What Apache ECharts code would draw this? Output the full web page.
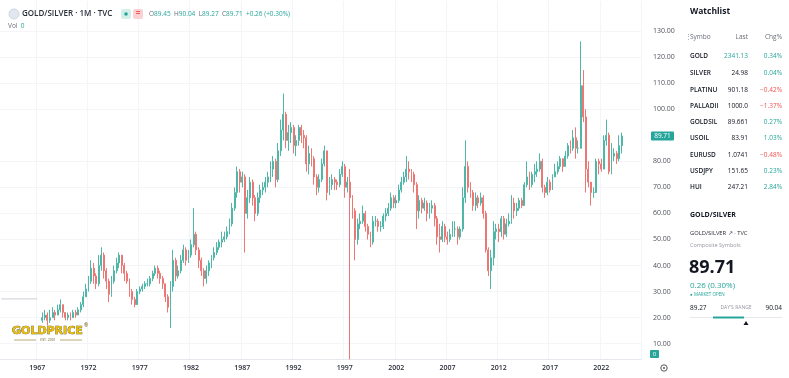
<!DOCTYPE html>
<html><head><meta charset="utf-8">
<script src="https://cdn.jsdelivr.net/npm/echarts@6/dist/echarts.min.js"></script>
<style>html,body{margin:0;padding:0;background:#fff}#c{width:789px;height:378px}</style>
</head><body><div id="c"></div>
<script>
// ---- data (quarterly candles) ----
const firstCandle = '1967-Q3';
const axisStartYear = 1963, axisStartQuarter = 3, axisEndYear = 2025;
const closes = [
 20,21,
 19,20,22,21, 23,25,22,20, 21,20,22,21, 23,25,28,31, 34,39,36,33,
 40,44,38,34, 29,34,38,41, 44,40,37,34, 30,27,25,30, 31,32,33,33,
 35,37,39,37, 35,33,28,24, 32,42,36,38, 42,46,42,44, 48,52,46,42,
 38,35,38,41, 43,45,47,49, 50,51,53,56, 62,68,76,72, 74,60,66,72,
 66,60,66,69, 70,72,74,77, 80,73,84,92, 98,88,91,93, 86,88,93,90,
 89,79,83,81, 74,70,73,79, 84,68,71,73, 72,71,75,78, 70,72,66,61,
 50,56,57,60, 55,52,49,57, 57,55,55,59, 60,62,66,64, 65,69,72,74,
 77,76,75,71, 61,65,62,64, 60,62,63,58, 51,50,55,51, 50,52,54,54,
 51,54,66,78, 70,68,63,66, 64,66,60,46, 38,43,53,54, 53,58,52,56,
 57,64,61,62, 65,63,71,74, 71,75,76,77, 80,70,68,72, 69,74,76,78,
 81,78,82,86, 85,89,85,85, 109,97,77,72, 68,68,80,79, 77,88,90,76,
 82,83,81,86, 89.71
];
const highs = [
 22,23,
 22,23,24,23, 25,27,25,22, 22,22,23,23, 24,26,30,33, 36,42,41,37,
 44,47,45,39, 35,36,40,43, 45,44,41,38, 35,31,28,31, 32,33,34,35,
 36,38,40,40, 38,36,33,29, 34,46,43,40, 44,48,47,46, 50,62,53,47,
 43,39,40,42, 44,47,49,50, 53,53,55,58, 64,70,78,77, 76,75,69,74,
 73,67,68,71, 72,74,76,80, 82,81,87,96, 106,99,94,95, 94,90,94,94,
 92,90,86,85, 82,75,75,81, 86,84,74,75, 74,73,77,80, 79,74,77,67,
 62,58,60,63, 61,56,53,59, 59,58,57,60, 62,64,68,67, 67,71,74,76,
 82,80,77,76, 72,67,66,66, 65,64,65,64, 59,56,57,56, 53,54,57,57,
 55,55,70,88, 80,72,69,68, 67,68,67,61, 47,46,57,56, 56,59,59,58,
 60,67,66,64, 66,66,72,80, 76,76,79,80, 83,81,71,74, 73,75,79,80,
 82,81,84,87, 88,92,93,88, 126,115,100,80, 72,70,81,81, 81,90,96,91,
 87,85,84,90, 91
];
const lows = [
 18,19,
 17,18,20,19, 21,22,20,19, 19,19,20,20, 21,22,24,28, 30,33,33,31,
 32,38,35,31, 26,28,33,37, 39,37,34,33, 28,25,24,25, 29,30,31,32,
 32,34,36,35, 33,31,26,22, 16,30,34,35, 37,41,40,41, 43,47,44,39,
 36,32,33,36, 39,42,44,46, 47,49,50,52, 55,61,66,68, 70,45,58,64,
 63,57,59,64, 67,68,70,72, 74,70,72,82, 88,85,84,87, 83,82,86,87,
 85,76,75,78, 71,67,68,72, 78,65,67,69, 69,69,70,74, 66,68,4,58,
 42,48,54,56, 53,50,47,48, 55,53,53,54, 57,59,61,62, 62,64,68,71,
 72,73,72,68, 54,58,60,61, 57,58,60,55, 48,45,49,49, 48,49,51,51,
 48,50,53,64, 68,66,61,61, 62,63,58,45, 36,31,40,50, 49,51,50,51,
 55,56,58,59, 61,62,63,70, 69,70,72,74, 76,68,66,67, 68,69,74,75,
 77,76,78,81, 83,84,81,83, 85,95,68,70, 63,66,68,75, 76,77,86,75,
 75,80,79,80, 83
];
const firstOpen = 19;
const preListingLevel = 27.2;        // flat grey line before the first candle
const preListingQuarters = ['1963-Q3','1967-Q1'];
const yTicks = [10,20,30,40,50,60,70,80,100,110,120,130];   // 90.00 is hidden under the last-price badge
const yearTicks = ['1967','1972','1977','1982','1987','1992','1997','2002','2007','2012','2017','2022'];
const lastPrice = 89.71;
const lastVolume = 0;

const watchSymbols = ['GOLD','SILVER','PLATINU','PALLADII','GOLDSIL','USOIL','EURUSD','USDJPY','HUI'];
const watchLast = ['2341.13','24.98','901.18','1000.0','89.661','83.91','1.0741','151.65','247.21'];
const watchChg = ['0.34%','0.04%','\u22120.42%','\u22121.37%','0.27%','1.03%','\u22120.48%','0.23%','2.84%'];
const watchChgUp = [true,true,false,false,true,true,false,true,true];

// ---- build ----
const cats = [];
for (let y = axisStartYear; y <= axisEndYear; y++) {
  for (let q = 1; q <= 4; q++) {
    if (y === axisStartYear && q < axisStartQuarter) continue;
    cats.push(y + '-Q' + q);
  }
}
const startIdx = cats.indexOf(firstCandle);
const candleData = cats.map(() => '-');
for (let i = 0; i < closes.length; i++) {
  const o = i === 0 ? firstOpen : closes[i - 1];
  const c = closes[i];
  candleData[startIdx + i] = [o, c, Math.min(lows[i], o, c), Math.max(highs[i], o, c)];
}
const i0 = cats.indexOf(preListingQuarters[0]), i1 = cats.indexOf(preListingQuarters[1]);
const flatData = cats.map((c, i) => (i >= i0 && i <= i1) ? preListingLevel : '-');

const isYearTick = (idx, val) => val.endsWith('Q1') && yearTicks.includes(val.slice(0, 4));

const UP = '#4fb7a8', DOWN = '#ec7774', TEAL = '#26a69a', RED = '#ef5350';
const F = '"Open Sans", "Noto Sans", sans-serif';

const chart = echarts.init(document.getElementById('c'), null, { renderer: 'canvas' });

const g = [];
// header
g.push({ type: 'circle', shape: { cx: 14, cy: 14, r: 5 }, style: { fill: '#e3e8f0', stroke: '#cfd6e0', lineWidth: 1 } });
g.push({ type: 'text', x: 22, y: 14, style: { text: 'GOLD/SILVER \u00b7 1M \u00b7 TVC', fill: '#2a2e39', font: '600 8px ' + F, verticalAlign: 'middle' } });
g.push({ type: 'rect', shape: { x: 121, y: 9, width: 10, height: 10, r: 2 }, style: { fill: '#d3efe9' } });
g.push({ type: 'circle', shape: { cx: 126, cy: 14, r: 1.8 }, style: { fill: TEAL } });
g.push({ type: 'rect', shape: { x: 133, y: 9, width: 10, height: 10, r: 2 }, style: { fill: '#fad2d6' } });
g.push({ type: 'text', x: 138, y: 14, style: { text: '=', fill: RED, font: '700 8px ' + F, align: 'center', verticalAlign: 'middle' } });
g.push({ type: 'text', x: 149, y: 14, style: {
  text: '{l|O}{v|89.45} {l|H}{v|90.04} {l|L}{v|89.27} {l|C}{v|89.71} {v|+0.26 (+0.30%)}',
  verticalAlign: 'middle',
  rich: { l: { fill: '#6a6d78', font: '6.5px ' + F }, v: { fill: TEAL, font: '6.5px ' + F } }
} });
g.push({ type: 'text', x: 8, y: 26, style: { text: '{l|Vol} {v|0}', verticalAlign: 'middle',
  rich: { l: { fill: '#6a6d78', font: '6.5px ' + F }, v: { fill: TEAL, font: '6.5px ' + F } } } });

// logo
g.push({ type: 'text', x: 12, y: 331, style: { text: 'GOLDPRICE', fill: '#e8bd12', stroke: '#4d3c00', lineWidth: 0.6, font: '900 11px "DejaVu Sans", sans-serif', verticalAlign: 'middle' } });
g.push({ type: 'text', x: 84, y: 326, style: { text: '\u00ae', fill: '#5c4700', font: '5px ' + F, verticalAlign: 'middle' } });
g.push({ type: 'line', shape: { x1: 14, y1: 340, x2: 36, y2: 340 }, style: { stroke: '#8a7420', lineWidth: 0.6 } });
g.push({ type: 'line', shape: { x1: 60, y1: 340, x2: 82, y2: 340 }, style: { stroke: '#8a7420', lineWidth: 0.6 } });
g.push({ type: 'text', x: 48, y: 340, style: { text: 'EST. 2001', fill: '#6b5a20', font: '3.5px ' + F, align: 'center', verticalAlign: 'middle' } });

// settings icon
g.push({ type: 'circle', shape: { cx: 664, cy: 368, r: 3.2 }, style: { fill: 'none', stroke: '#555', lineWidth: 1 } });
g.push({ type: 'circle', shape: { cx: 664, cy: 368, r: 1 }, style: { fill: '#555' } });

// watchlist
g.push({ type: 'text', x: 690, y: 12, style: { text: 'Watchlist', fill: '#131722', font: '700 8.5px ' + F, verticalAlign: 'middle' } });
g.push({ type: 'text', x: 685, y: 37, style: { text: '\u22ee', fill: '#9598a1', font: '7px ' + F, verticalAlign: 'middle' } });
g.push({ type: 'text', x: 690, y: 37, style: { text: 'Symbo', fill: '#6a6d78', font: '6.5px ' + F, verticalAlign: 'middle' } });
g.push({ type: 'text', x: 748, y: 37, style: { text: 'Last', fill: '#6a6d78', font: '6.5px ' + F, align: 'right', verticalAlign: 'middle' } });
g.push({ type: 'text', x: 782, y: 37, style: { text: 'Chg%', fill: '#6a6d78', font: '6.5px ' + F, align: 'right', verticalAlign: 'middle' } });
const rowY = [56, 73, 90, 106, 122, 138, 155, 171, 187];
watchSymbols.forEach((s, i) => {
  const y = rowY[i];
  g.push({ type: 'text', x: 690, y, style: { text: s, fill: '#131722', font: '600 6.5px ' + F, verticalAlign: 'middle' } });
  g.push({ type: 'text', x: 748, y, style: { text: watchLast[i], fill: i === 0 ? TEAL : '#131722', font: '6.5px ' + F, align: 'right', verticalAlign: 'middle' } });
  g.push({ type: 'text', x: 782, y, style: { text: watchChg[i], fill: watchChgUp[i] ? TEAL : RED, font: '6.5px ' + F, align: 'right', verticalAlign: 'middle' } });
});

// detail panel
g.push({ type: 'text', x: 690, y: 215, style: { text: 'GOLD/SILVER', fill: '#131722', font: '700 7px ' + F, verticalAlign: 'middle' } });
g.push({ type: 'text', x: 690, y: 233, style: { text: 'GOLD/SILVER \u2197 \u00b7 TVC', fill: '#2a2e39', font: '5.8px ' + F, verticalAlign: 'middle' } });
g.push({ type: 'text', x: 690, y: 245, style: { text: 'Composite Symbols', fill: '#9598a1', font: '5.5px ' + F, verticalAlign: 'middle' } });
g.push({ type: 'text', x: 689, y: 268, style: { text: '89.71', fill: '#131722', font: '700 18px ' + F, verticalAlign: 'middle' } });
g.push({ type: 'text', x: 690, y: 286, style: { text: '0.26 (0.30%)', fill: TEAL, font: '8px ' + F, verticalAlign: 'middle' } });
g.push({ type: 'text', x: 690, y: 295, style: { text: '\u25cf MARKET OPEN', fill: TEAL, font: '4.5px ' + F, verticalAlign: 'middle' } });
g.push({ type: 'text', x: 690, y: 308, style: { text: '89.27', fill: '#131722', font: '6.5px ' + F, verticalAlign: 'middle' } });
g.push({ type: 'text', x: 736, y: 308, style: { text: "DAY'S RANGE", fill: '#9598a1', font: '5px ' + F, align: 'center', verticalAlign: 'middle' } });
g.push({ type: 'text', x: 782, y: 308, style: { text: '90.04', fill: '#131722', font: '6.5px ' + F, align: 'right', verticalAlign: 'middle' } });
g.push({ type: 'line', shape: { x1: 690, y1: 317.5, x2: 782, y2: 317.5 }, style: { stroke: '#e6e8ee', lineWidth: 1 } });
g.push({ type: 'line', shape: { x1: 713, y1: 317.5, x2: 744, y2: 317.5 }, style: { stroke: TEAL, lineWidth: 2 } });
g.push({ type: 'polygon', shape: { points: [[746, 321], [743.5, 325], [748.5, 325]] }, style: { fill: '#131722' } });

const option = {
  animation: false,
  backgroundColor: '#ffffff',
  grid: { left: 0, width: 641, top: 1, bottom: 18.3 },
  xAxis: {
    type: 'category', data: cats, boundaryGap: true,
    axisLine: { show: true, lineStyle: { color: '#e6e8ee' } },
    axisTick: { show: false },
    axisLabel: { interval: isYearTick, formatter: v => v.slice(0, 4), color: '#2a2e39', fontSize: 7, fontWeight: 600, fontFamily: F, margin: 5 },
    splitLine: { show: true, interval: isYearTick, lineStyle: { color: '#f4f5f8' } }
  },
  yAxis: {
    type: 'value', position: 'right', min: 3.87, max: 141.5, scale: true,
    axisLine: { show: false }, axisTick: { show: false, customValues: yTicks },
    axisLabel: { customValues: yTicks, formatter: v => v.toFixed(2), color: '#50535e', fontSize: 7, fontFamily: F, margin: 12 },
    splitLine: { show: true, lineStyle: { color: '#f4f5f8' } }
  },
  series: [
    { type: 'line', data: flatData, symbol: 'none', silent: true, lineStyle: { color: '#c9ccd3', width: 1 } },
    {
      type: 'candlestick', data: candleData, barWidth: 1.4, z: 5,
      itemStyle: { color: UP, color0: DOWN, borderColor: UP, borderColor0: DOWN, borderWidth: 1 }
    }
  ],
  graphic: g
};
chart.setOption(option);

// price badges on the price scale, positioned through the chart's own scale
const py = chart.convertToPixel({ yAxisIndex: 0 }, lastPrice);
g.push({ type: 'rect', z: 100, shape: { x: 651, y: py - 4.5, width: 23, height: 9, r: 1 }, style: { fill: TEAL } });
g.push({ type: 'text', z: 101, x: 662.5, y: py, style: { text: lastPrice.toFixed(2), fill: '#fff', font: '6.5px ' + F, align: 'center', verticalAlign: 'middle' } });
g.push({ type: 'rect', z: 100, shape: { x: 650, y: 350, width: 9, height: 8, r: 1 }, style: { fill: TEAL } });
g.push({ type: 'text', z: 101, x: 654.5, y: 354, style: { text: String(lastVolume), fill: '#fff', font: '6px ' + F, align: 'center', verticalAlign: 'middle' } });
chart.setOption({ graphic: g }, { replaceMerge: ['graphic'] });
</script>
</body></html>
